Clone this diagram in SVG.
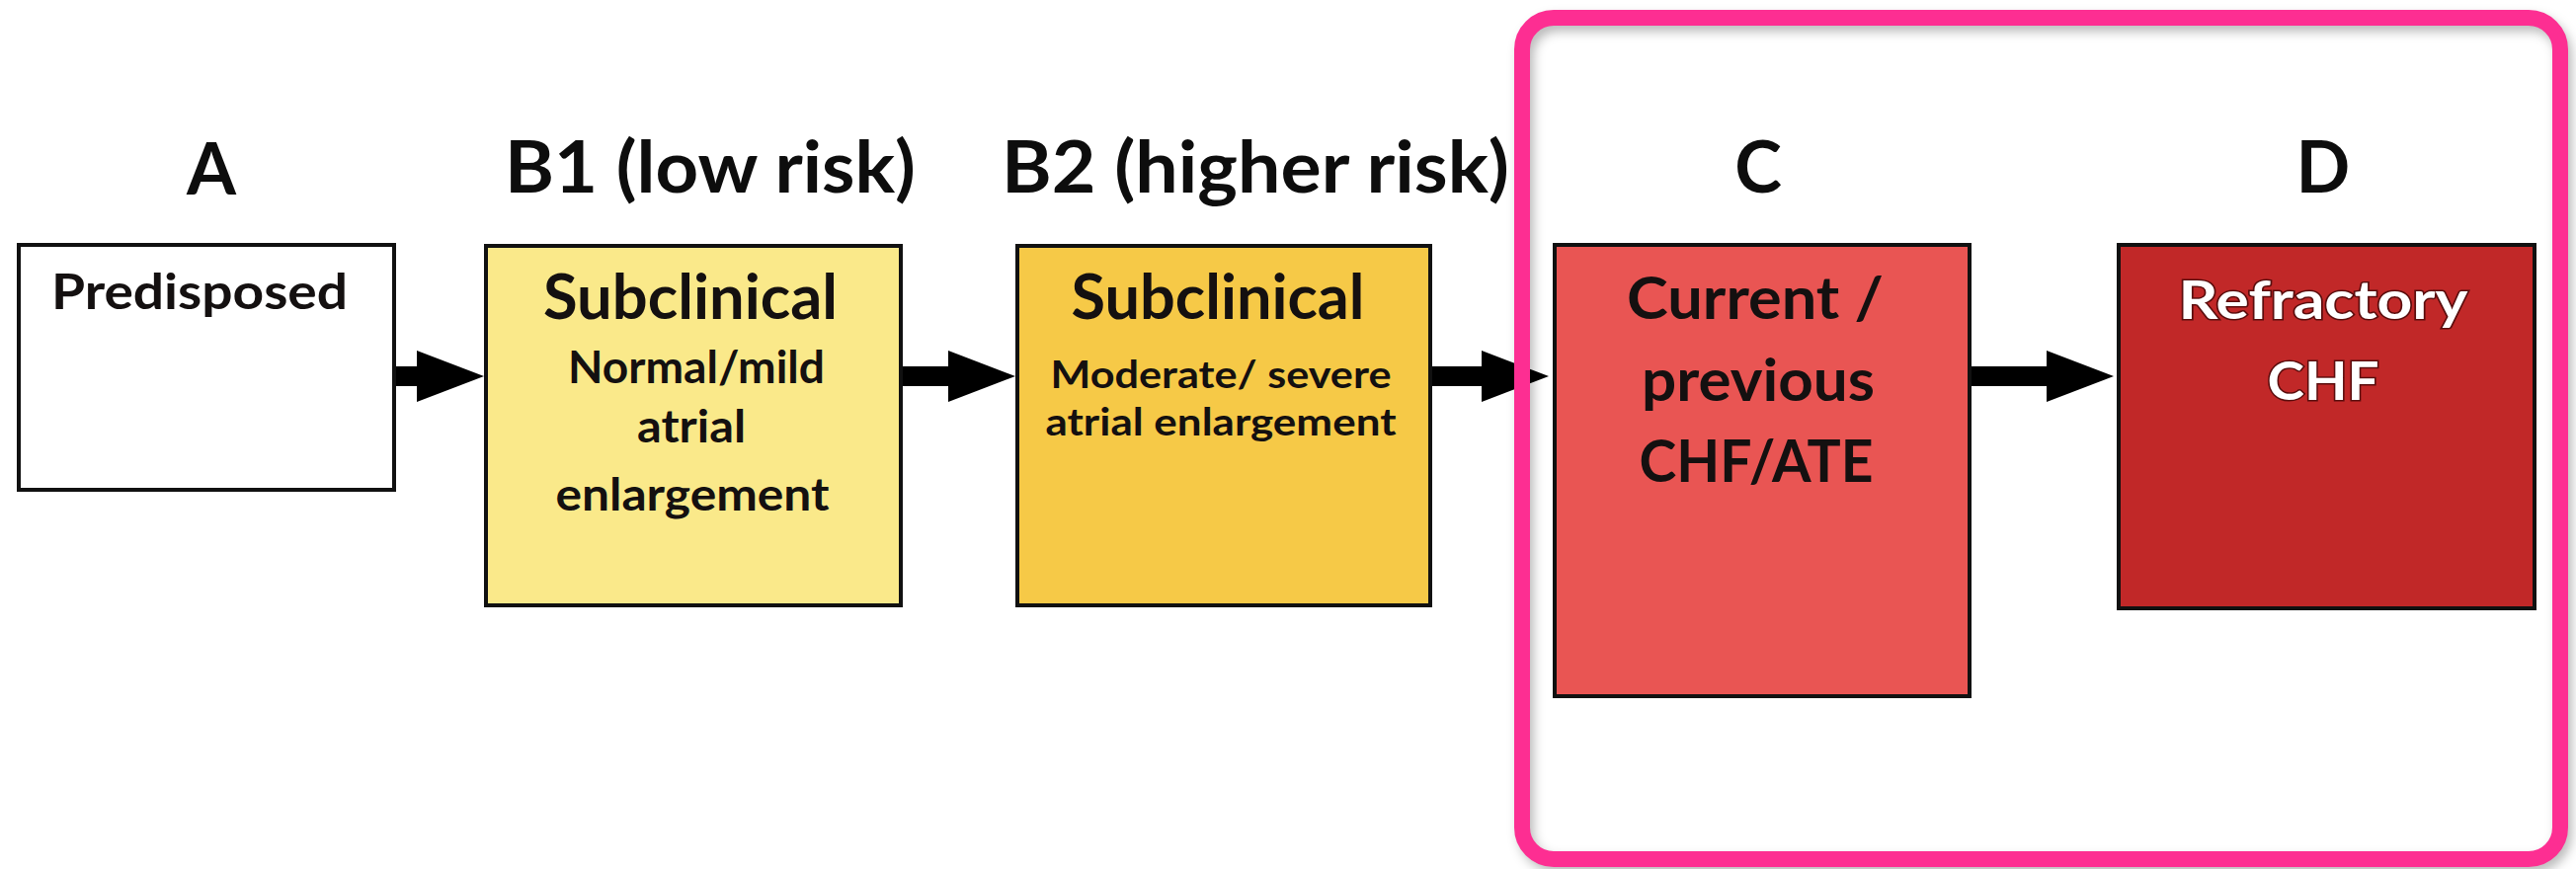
<svg xmlns="http://www.w3.org/2000/svg" width="2608" height="880" viewBox="0 0 2608 880">
  <defs>
    <style>
      .box { stroke: #111111; stroke-width: 4; }
      .hdr { font-family: Lato, "Open Sans", "Liberation Sans", sans-serif; font-weight: 700; font-size: 72px; fill: #0d0d0d; text-anchor: middle; }
      .lbl { font-family: Lato, "Open Sans", "Liberation Sans", sans-serif; font-weight: 700; fill: #141010; text-anchor: middle; }
      .wlbl { font-family: Lato, "Open Sans", "Liberation Sans", sans-serif; font-weight: 700; fill: #ffffff; stroke: #5a0d0d; stroke-width: 3; paint-order: stroke; text-anchor: middle; }
      .conn { stroke: #000000; stroke-width: 20; fill: none; marker-end: url(#head); }
    </style>
    <marker id="head" markerUnits="userSpaceOnUse" viewBox="0 0 68 52" markerWidth="68" markerHeight="52" refX="0" refY="26" orient="auto">
      <path d="M0,0 L68,26 L0,52 Z" fill="#000000"/>
    </marker>
    <filter id="shadow" x="-5%" y="-5%" width="110%" height="110%">
      <feGaussianBlur stdDeviation="6"/>
    </filter>
  </defs>

  <rect x="0" y="0" width="2608" height="880" fill="#ffffff"/>

  <g id="header-labels">
    <text class="hdr" x="214" y="197">A</text>
    <text class="hdr" x="719" y="195" textLength="416" lengthAdjust="spacingAndGlyphs">B1 (low risk)</text>
    <text class="hdr" x="1271" y="195" textLength="514" lengthAdjust="spacingAndGlyphs">B2 (higher risk)</text>
    <text class="hdr" x="1780" y="195">C</text>
    <text class="hdr" x="2352" y="195">D</text>
  </g>

  <g id="connectors">
    <line class="conn" x1="399" y1="381" x2="422" y2="381"/>
    <line class="conn" x1="912" y1="381" x2="960" y2="381"/>
    <line class="conn" x1="1448" y1="381" x2="1500" y2="381"/>
    <line class="conn" x1="1994" y1="381" x2="2072" y2="381"/>
  </g>

  <g id="node-A">
    <rect class="box" x="19" y="248" width="380" height="248" fill="#ffffff"/>
    <text class="lbl" x="202" y="313" font-size="50" textLength="300" lengthAdjust="spacingAndGlyphs">Predisposed</text>
  </g>

  <g id="node-B1">
    <rect class="box" x="492" y="249" width="420" height="364" fill="#fae98a"/>
    <text class="lbl" x="699" y="323" font-size="63" textLength="298" lengthAdjust="spacingAndGlyphs">Subclinical</text>
    <text class="lbl" x="705" y="388" font-size="45" textLength="260" lengthAdjust="spacingAndGlyphs">Normal/mild</text>
    <text class="lbl" x="700" y="448" font-size="45" textLength="110" lengthAdjust="spacingAndGlyphs">atrial</text>
    <text class="lbl" x="701" y="517" font-size="45" textLength="277" lengthAdjust="spacingAndGlyphs">enlargement</text>
  </g>

  <g id="node-B2">
    <rect class="box" x="1030" y="249" width="418" height="364" fill="#f6c947"/>
    <text class="lbl" x="1233" y="323" font-size="63" textLength="297" lengthAdjust="spacingAndGlyphs">Subclinical</text>
    <text class="lbl" x="1236" y="393" font-size="39" textLength="345" lengthAdjust="spacingAndGlyphs">Moderate/ severe</text>
    <text class="lbl" x="1236" y="441" font-size="39" textLength="355" lengthAdjust="spacingAndGlyphs">atrial enlargement</text>
  </g>

  <g id="node-C">
    <rect class="box" x="1574" y="248" width="420" height="457" fill="#e95553"/>
    <text class="lbl" x="1777" y="323" font-size="60" textLength="260" lengthAdjust="spacingAndGlyphs">Current /</text>
    <text class="lbl" x="1780" y="406" font-size="60" textLength="236" lengthAdjust="spacingAndGlyphs">previous</text>
    <text class="lbl" x="1778" y="488" font-size="60" textLength="237" lengthAdjust="spacingAndGlyphs">CHF/ATE</text>
  </g>

  <g id="node-D">
    <rect class="box" x="2145" y="248" width="421" height="368" fill="#c12828"/>
    <text class="wlbl" x="2352" y="323" font-size="53" textLength="293" lengthAdjust="spacingAndGlyphs">Refractory</text>
    <text class="wlbl" x="2352" y="405" font-size="53" textLength="113" lengthAdjust="spacingAndGlyphs">CHF</text>
  </g>

  <g id="highlight">
    <rect x="1545" y="24" width="1051" height="852" rx="32" ry="32" fill="none" stroke="#000000" stroke-opacity="0.3" stroke-width="14" filter="url(#shadow)"/>
    <rect x="1541" y="18" width="1051" height="852" rx="32" ry="32" fill="none" stroke="#fd2e92" stroke-width="16"/>
  </g>
</svg>
